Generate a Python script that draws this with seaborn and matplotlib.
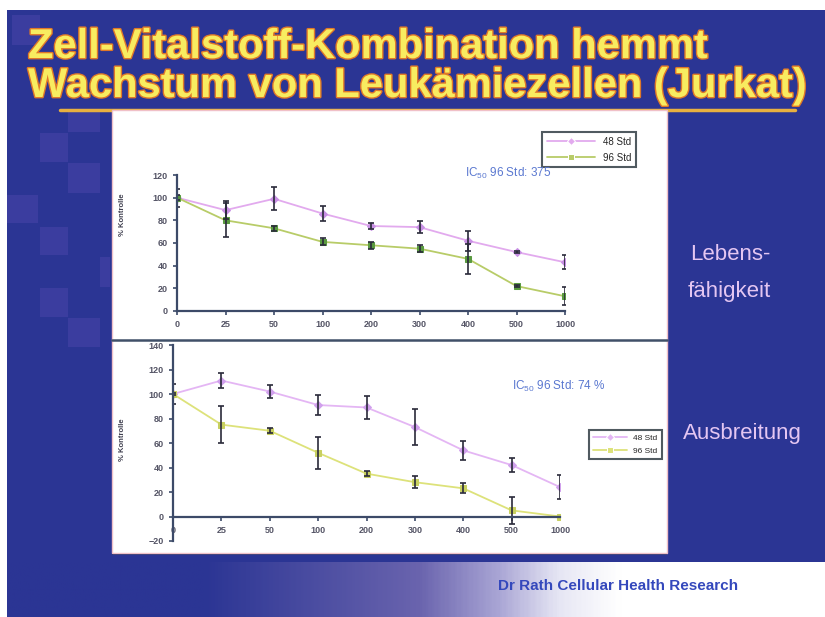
import numpy as np
import pandas as pd
import seaborn as sns
import matplotlib.pyplot as plt
import matplotlib.patheffects as pe
from matplotlib.patches import Rectangle
from matplotlib.colors import LinearSegmentedColormap

# doses (categorical x axis)
doses = ["0", "25", "50", "100", "200", "300", "400", "500", "1000"]
series_names = ["48 Std", "96 Std"]

# Lebensfaehigkeit (top panel), % Kontrolle
viab_48 = [100, 89, 99, 86, 75, 74, 62, 52, 43]
viab_48_err = [8, 8, 10, 7, 3, 5, 9, 1, 6]
viab_96 = [100, 80, 73, 61, 58, 55, 46, 22, 13]
viab_96_err = [2, 15, 2, 3, 3, 3, 13, 1, 8]

# Ausbreitung (bottom panel), % Kontrolle
prol_48 = [100, 111, 102, 91, 89, 73, 54, 42, 24]
prol_48_err = [8, 6, 5, 8, 9, 15, 8, 6, 10]
prol_96 = [100, 75, 70, 52, 35, 28, 23, 5, 0]
prol_96_err = [1, 15, 2, 13, 2, 5, 4, 11, 0]

W, H = 825, 617
BLUE = "#2b3594"


def fx(x):
    return x / W


def fy(y):
    return 1 - y / H


def rect(x0, y0, x1, y1, **kw):
    return Rectangle((fx(x0), fy(y1)), (x1 - x0) / W, (y1 - y0) / H,
                     transform=fig.transFigure, **kw)


sns.set_theme(style="ticks")
plt.rcParams['font.family'] = ['Liberation Sans', 'DejaVu Sans']
plt.rcParams['mathtext.fontset'] = 'custom'
plt.rcParams['mathtext.rm'] = 'Liberation Sans'
plt.rcParams['mathtext.it'] = 'Liberation Sans'
plt.rcParams['mathtext.bf'] = 'Liberation Sans:bold'

fig = plt.figure(figsize=(8.25, 6.17), dpi=100)
fig.patch.set_facecolor("white")

# slide background
fig.patches.append(rect(7, 10, 825, 617, facecolor=BLUE, edgecolor="none", zorder=-2))

# checker squares on the left
squares = [(12, 15, 40, 45), (68, 112, 100, 132), (40, 133, 68, 162), (68, 163, 100, 193),
           (7, 195, 38, 223), (40, 227, 68, 255), (100, 257, 110, 287),
           (40, 288, 68, 317), (68, 318, 100, 347)]
for s in squares:
    fig.patches.append(rect(*s, facecolor="#4744a8", edgecolor="none", alpha=0.6, zorder=-1))

# footer gradient
gax = fig.add_axes([fx(7), 0, 1 - fx(7), (617 - 562) / H], zorder=1)
cmap = LinearSegmentedColormap.from_list(
    "foot", [(0, BLUE), (0.24, BLUE), (0.505, "#6a64ae"), (0.60, "#a8a4d4"),
             (0.676, "#e6e6f4"), (0.75, "white"), (1, "white")])
gax.imshow(np.linspace(0, 1, 400)[None, :], aspect="auto", cmap=cmap, extent=[0, 1, 0, 1])
gax.axis("off")
fig.text(fx(618), fy(586), "Dr Rath Cellular Health Research", ha="center", va="center",
         fontsize=11, fontweight="bold", color="#3448bc", zorder=5)

# title underline
fig.lines.append(plt.Line2D([fx(60), fx(795)], [fy(110), fy(110)], transform=fig.transFigure,
                            color="#e8b040", lw=2.5, zorder=1))

# title
title_fx = [pe.withStroke(linewidth=2, foreground="#e07828")]
fig.text(fx(28), fy(47), "Zell-Vitalstoff-Kombination hemmt", ha="left", va="center",
         fontsize=30, fontweight="bold", color="#f8ec60", path_effects=title_fx)
fig.text(fx(28), fy(86), "Wachstum von Leukämiezellen (Jurkat)", ha="left", va="center",
         fontsize=30, fontweight="bold", color="#f8ec60", path_effects=title_fx)

# white chart panel
fig.patches.append(rect(112, 110, 667, 555, facecolor="#1c2a6a", edgecolor="none", zorder=1))
fig.patches.append(rect(112, 110, 667, 553, facecolor="white", edgecolor="#f0c0c8", lw=1, zorder=1.5))
fig.lines.append(plt.Line2D([fx(112), fx(667)], [fy(340), fy(340)], transform=fig.transFigure,
                            color="#405068", lw=1.8, zorder=2))

# right-hand labels
lab_col = "#e4c6f2"
fig.text(fx(690), fy(255), "Lebens-", fontsize=16, color=lab_col, va="center")
fig.text(fx(688), fy(291), "fähigkeit", fontsize=16, color=lab_col, va="center")
fig.text(fx(683), fy(434), "Ausbreitung", fontsize=16, color=lab_col, va="center")


def panel(rect_px, ylo, yhi, yticks, v48, e48, v96, e96, c48, c96, line96, leg_px, ic_px, ic_text, ylab_y):
    x0, y0, x1, y1 = rect_px
    ax = fig.add_axes([fx(x0), fy(y1), (x1 - x0) / W, (y1 - y0) / H], zorder=3)
    ax.set_facecolor("none")
    df = pd.DataFrame({
        "Dosis": doses * 2,
        "Wert": v48 + v96,
        "Serie": [series_names[0]] * len(doses) + [series_names[1]] * len(doses),
    })
    sns.lineplot(data=df, x="Dosis", y="Wert", hue="Serie", style="Serie",
                 palette={series_names[0]: c48[0], series_names[1]: line96},
                 markers={series_names[0]: "D", series_names[1]: "s"}, dashes=False,
                 markersize=4, lw=1.3, ax=ax, sort=False)
    for ln, mc in zip(ax.lines[:2], [c48[1], c96]):
        ln.set_markerfacecolor(mc)
        ln.set_markeredgecolor(mc)
    xs = np.arange(len(doses))
    ax.errorbar(xs, v48, yerr=e48, fmt="none", ecolor="#2a2a3a", elinewidth=1.2, capsize=2.5, capthick=1.2)
    ax.errorbar(xs, v96, yerr=e96, fmt="none", ecolor="#2a2a3a", elinewidth=1.2, capsize=2.5, capthick=1.2)
    ax.set_xlim(0, len(doses) - 1)
    ax.set_ylim(ylo, yhi)
    ax.set_yticks(yticks)
    ax.set_xticks(xs)
    ax.set_xticklabels(doses)
    ax.spines["bottom"].set_position(("data", 0))
    for sp in ["left", "bottom"]:
        ax.spines[sp].set_color("#3c4a68")
        ax.spines[sp].set_linewidth(1.6)
    sns.despine(ax=ax)
    ax.tick_params(colors="#3c4a68", labelcolor="#555566", labelsize=6.5, length=3, width=1.2)
    for t in ax.get_xticklabels() + ax.get_yticklabels():
        t.set_fontweight("bold")
    ax.set_xlabel("")
    ax.set_ylabel("")
    fig.text(fx(123), fy(ylab_y), "% Kontrolle", rotation=90, ha="center", va="center",
             fontsize=5.5, fontweight="bold", color="#404050")
    h, l = ax.get_legend_handles_labels()
    ax.legend(h, l, loc="upper right", bbox_to_anchor=(fx(leg_px[0]), fy(leg_px[1])),
              bbox_transform=fig.transFigure, fontsize=leg_px[2], frameon=True, fancybox=False,
              edgecolor="#505a60", framealpha=1, borderpad=0.5, handlelength=leg_px[3],
              markerfirst=True, labelspacing=0.6)
    ax.get_legend().get_frame().set_linewidth(1.5)
    fig.text(fx(ic_px[0]), fy(ic_px[1]), ic_text, fontsize=8.5, color="#5a78d0", va="center")
    return ax


panel((177, 175, 565, 311), 0, 120, range(0, 121, 20),
      viab_48, viab_48_err, viab_96, viab_96_err,
      ("#e2aaee", "#c890e4"), "#5a9a40", "#b8cc68",
      (641, 127, 7, 5), (465, 173), "IC$_{50}$ 96 Std: 375", 215)

panel((173, 345, 560, 541), -20, 140, range(-20, 141, 20),
      prol_48, prol_48_err, prol_96, prol_96_err,
      ("#e4b6f4", "#d0a0ec"), "#c8d060", "#dde27a",
      (666, 426, 6, 4), (512, 386), "IC$_{50}$ 96 Std: 74 %", 440)

fig.savefig("out.png", dpi=100)
